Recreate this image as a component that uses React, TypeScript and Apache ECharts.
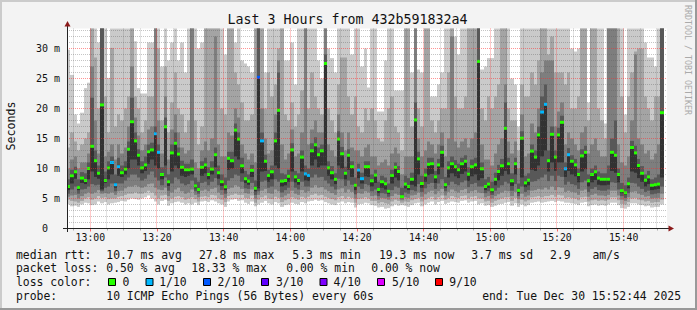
import { useEffect, useRef } from "react";
import * as echarts from "echarts";

const FONT = "'DejaVu Sans Mono', 'Liberation Mono', monospace";
const INK = "#111111";
const START_MINUTE = 12 * 60 + 53;
const STEPS = 180;
const Y_MAX = 100 / 3;

// category labels: one per minute boundary, 12:53 .. 15:53
const timeLabels: string[] = [];
for (let i = 0; i <= STEPS; i++) {
  const m = START_MINUTE + i;
  timeLabels.push(`${Math.floor(m / 60)}:${String(m % 60).padStart(2, "0")}`);
}
const minuteOf = (i: number) => (START_MINUTE + i) % 60;

const yTickValues = [0, 5, 10, 15, 20, 25, 30];

// median rtt per minute (ms)
const medianMs = [
  7.0, 8.8, 9.45, 6.85, 8.4, 8.0, 10.0, 13.7, 11.3, 9.2, 20.6, 8.0, 10.1, 11.0, 7.3, 10.3, 9.3, 9.9, 13.2, 17.8, 14.6, 12.2, 10.1, 10.6, 12.8, 13.1, 15.8, 12.7, 9.0, 16.95,
  7.8, 12.6, 14.2, 12.4, 10.2, 9.8, 9.8, 9.9, 7.1, 6.5, 10.2, 10.6, 9.0, 9.9, 12.3, 9.3, 7.8, 6.95, 11.7, 11.3, 16.4, 14.9, 10.45, 8.3, 7.9, 9.7, 6.7, 25.2, 14.6, 11.2,
  8.85, 9.45, 14.6, 19.7, 7.9, 8.0, 8.7, 13.1, 8.6, 8.0, 11.9, 9.1, 8.85, 12.95, 13.95, 12.3, 12.95, 27.5, 10.1, 9.3, 8.2, 14.9, 12.45, 9.2, 12.2, 10.3, 7.2, 9.75, 8.3, 10.3,
  10.3, 7.95, 8.9, 6.5, 7.8, 7.45, 6.2, 8.85, 10.2, 9.5, 5.3, 7.4, 7.0, 8.2, 18.1, 11.6, 7.5, 8.9, 10.7, 10.8, 8.6, 10.6, 12.7, 7.3, 10.1, 10.8, 10.3, 9.8, 10.8, 11.2,
  9.05, 10.3, 10.6, 27.85, 9.95, 7.0, 7.4, 6.45, 8.2, 9.5, 10.45, 16.7, 10.8, 7.95, 10.8, 6.35, 15.05, 7.6, 8.05, 12.9, 11.9, 15.6, 19.4, 20.7, 11.3, 15.7, 11.9, 15.6, 17.7, 9.95,
  12.3, 11.2, 10.6, 9.0, 12.1, 12.7, 7.95, 9.0, 9.45, 8.4, 8.2, 8.2, 8.2, 12.7, 12.2, 9.0, 6.3, 5.95, 7.45, 13.5, 12.6, 10.5, 9.2, 8.05, 8.6, 7.2, 7.3, 7.4, 19.3,
];

// lost pings (of 10) per minute
const lossCount = [
  0, 0, 0, 0, 0, 0, 0, 0, 0, 0, 0, 0, 0, 1, 1, 1, 0, 0, 0, 0, 0, 0, 0, 0, 0, 0, 1, 1, 0, 0,
  0, 0, 0, 0, 0, 0, 0, 0, 0, 0, 0, 0, 0, 0, 0, 0, 0, 0, 0, 0, 0, 0, 0, 0, 0, 0, 0, 2, 1, 0,
  0, 0, 0, 0, 0, 0, 0, 0, 0, 0, 0, 1, 1, 0, 0, 0, 0, 0, 0, 0, 0, 0, 0, 0, 0, 0, 0, 1, 1, 0,
  0, 0, 0, 0, 0, 0, 0, 0, 0, 0, 0, 0, 0, 0, 0, 0, 0, 0, 0, 0, 0, 0, 0, 0, 0, 0, 0, 0, 0, 0,
  0, 0, 0, 0, 0, 0, 0, 0, 0, 0, 0, 0, 0, 0, 0, 0, 0, 0, 0, 0, 0, 0, 1, 1, 0, 0, 0, 0, 0, 1,
  1, 0, 0, 0, 0, 0, 0, 0, 0, 0, 0, 0, 0, 0, 0, 0, 0, 0, 0, 0, 0, 0, 0, 0, 0, 0, 0, 0, 0,
];

// the 10 sorted ping times (ms) per minute
const pingRows = [
  [4.0, 4.8, 5.3, 5.8, 6.4, 7.2, 8.2, 10.0, 13.5, 29.8],
  [3.7, 4.6, 5.5, 6.5, 7.5, 9.0, 9.8, 11.5, 16.0, 25.6],
  [3.8, 4.5, 5.6, 7.0, 8.3, 9.6, 10.3, 12.0, 14.5, 19.0],
  [3.6, 4.3, 5.0, 5.8, 6.4, 7.0, 8.2, 10.0, 13.0, 17.5],
  [4.0, 4.6, 5.4, 6.5, 7.6, 8.6, 9.4, 11.0, 14.0, 19.3],
  [4.3, 5.0, 5.8, 6.6, 7.4, 8.2, 9.2, 11.0, 15.0, 23.4],
  [4.2, 5.2, 6.0, 7.0, 8.2, 10.2, 11.0, 12.5, 16.0, 24.3],
  [3.9, 4.8, 5.8, 7.4, 9.5, 13.8, 21.8, 27.0, 36, 40],
  [4.0, 5.0, 6.0, 7.2, 8.6, 11.5, 13.0, 18.0, 28.5, 40],
  [4.5, 5.4, 6.4, 7.3, 8.3, 9.4, 10.5, 12.5, 20.0, 31.0],
  [4.2, 5.1, 5.8, 6.2, 6.5, 20.8, 40, 40, 40, 40],
  [4.4, 5.2, 5.9, 6.8, 7.6, 8.3, 9.5, 12.0, 22.0, 34.5],
  [4.0, 4.9, 5.8, 7.0, 8.2, 10.4, 11.2, 12.8, 16.0, 25.1],
  [4.2, 5.0, 6.0, 7.5, 9.0, 11.2, 12.0, 14.0, 30.1, 34.5],
  [4.3, 5.0, 5.6, 6.2, 6.8, 7.6, 9.0, 11.5, 17.0, 40],
  [4.4, 5.3, 6.2, 7.5, 8.8, 10.6, 11.8, 14.0, 19.0, 40],
  [4.6, 5.4, 6.3, 7.5, 8.6, 9.6, 10.5, 12.5, 18.0, 36],
  [4.5, 5.6, 6.7, 8.0, 9.0, 10.3, 11.2, 13.5, 20.0, 40],
  [4.8, 5.8, 7.0, 8.5, 10.0, 13.4, 14.5, 17.0, 22.0, 40],
  [5.0, 5.8, 7.0, 9.0, 11.5, 18.0, 21.8, 27.0, 40, 40],
  [4.9, 6.0, 7.2, 9.0, 11.5, 14.8, 16.0, 18.5, 22.0, 31.2],
  [4.8, 5.8, 7.0, 8.5, 10.5, 12.4, 13.2, 15.5, 20.0, 23.4],
  [5.0, 5.8, 6.8, 8.0, 9.2, 10.3, 11.2, 13.0, 16.0, 22.5],
  [5.2, 6.0, 7.0, 8.3, 9.6, 10.8, 12.0, 14.0, 18.0, 22.5],
  [5.5, 6.3, 7.4, 9.0, 10.8, 13.0, 14.0, 16.5, 22.0, 31.0],
  [5.0, 6.0, 7.5, 9.5, 11.5, 13.3, 14.3, 17.0, 22.0, 31.0],
  [4.5, 5.5, 6.8, 8.5, 10.5, 16.0, 17.0, 40, 40, 40],
  [4.0, 5.0, 6.5, 8.0, 10.0, 12.9, 14.0, 18.0, 30.0, 40],
  [4.6, 5.5, 6.4, 7.2, 8.2, 9.2, 10.2, 12.5, 18.0, 27.0],
  [4.8, 5.6, 6.8, 8.5, 10.5, 17.1, 18.5, 22.0, 27.0, 40],
  [3.8, 4.6, 5.4, 6.3, 7.1, 8.0, 9.0, 11.5, 16.0, 28.0],
  [4.2, 5.0, 6.0, 7.5, 9.5, 12.8, 14.0, 16.5, 21.0, 31.0],
  [4.4, 5.3, 6.5, 8.5, 10.5, 14.4, 16.0, 19.0, 26.0, 40],
  [4.5, 5.4, 6.8, 8.2, 10.0, 12.6, 13.5, 16.0, 20.0, 28.0],
  [4.3, 5.2, 6.2, 7.5, 8.8, 10.4, 11.3, 13.5, 19.0, 31.0],
  [4.0, 4.8, 5.8, 7.2, 8.6, 10.0, 10.8, 12.5, 16.0, 26.0],
  [4.2, 5.0, 6.0, 7.4, 8.8, 10.0, 10.8, 13.0, 18.0, 40],
  [4.0, 5.2, 6.5, 8.0, 9.0, 10.1, 11.5, 40, 40, 40],
  [4.3, 4.9, 5.6, 6.2, 6.7, 7.3, 8.5, 11.0, 18.0, 40],
  [3.9, 4.5, 5.2, 5.8, 6.2, 6.7, 7.8, 10.0, 14.0, 30.0],
  [4.5, 5.3, 6.3, 7.6, 8.8, 10.4, 11.2, 13.0, 17.0, 31.0],
  [4.6, 5.4, 6.5, 7.8, 9.2, 10.8, 11.8, 14.5, 40, 40],
  [4.4, 5.2, 6.2, 7.2, 8.2, 9.2, 10.2, 13.0, 40, 40],
  [4.7, 5.6, 6.6, 7.8, 9.0, 10.1, 11.2, 15.0, 40, 40],
  [4.5, 5.5, 6.8, 8.4, 10.2, 12.5, 13.5, 32.0, 40, 40],
  [4.2, 5.0, 6.0, 7.2, 8.3, 9.5, 10.5, 14.0, 40, 40],
  [4.0, 4.8, 5.6, 6.4, 7.1, 8.0, 9.0, 12.0, 20.0, 40],
  [3.6, 4.4, 5.1, 5.8, 6.4, 7.1, 8.5, 12.0, 19.0, 29.0],
  [4.5, 5.4, 6.6, 8.0, 9.8, 11.9, 12.8, 16.0, 40, 40],
  [4.8, 5.6, 6.8, 8.4, 10.0, 11.5, 12.8, 15.5, 40, 40],
  [4.9, 5.8, 7.2, 9.0, 12.0, 16.6, 17.5, 20.0, 26.0, 31.0],
  [4.6, 5.6, 7.0, 8.8, 11.5, 15.1, 16.0, 18.5, 24.0, 34.5],
  [4.7, 5.6, 6.6, 7.8, 9.2, 10.6, 11.8, 14.0, 21.0, 28.0],
  [4.3, 5.1, 5.9, 6.7, 7.6, 8.5, 9.6, 12.5, 18.0, 27.5],
  [4.1, 5.0, 5.8, 6.6, 7.3, 8.1, 9.0, 11.5, 18.0, 27.0],
  [4.5, 5.5, 6.5, 7.6, 8.6, 9.9, 10.6, 12.5, 19.0, 26.0],
  [3.7, 4.3, 5.0, 5.6, 6.2, 6.9, 8.0, 11.0, 40, 40],
  [4.0, 4.8, 5.6, 6.2, 6.7, 25.4, 40, 40, 40, 40],
  [4.3, 5.2, 6.3, 7.8, 9.5, 14.8, 16.0, 20.0, 40, 40],
  [4.6, 5.5, 6.6, 8.0, 9.6, 11.4, 12.3, 15.0, 20.0, 26.0],
  [4.2, 5.0, 5.9, 6.8, 7.8, 8.9, 9.8, 12.5, 26.0, 40],
  [4.0, 4.9, 5.8, 7.0, 8.2, 9.5, 10.5, 13.0, 22.0, 40],
  [4.4, 5.3, 6.5, 8.2, 10.5, 14.8, 16.0, 19.0, 24.0, 34.5],
  [4.2, 5.1, 6.2, 7.8, 10.0, 19.8, 26.0, 28.0, 30.0, 40],
  [3.6, 4.4, 5.2, 6.0, 7.0, 8.0, 9.2, 14.0, 40, 40],
  [3.9, 4.7, 5.5, 6.4, 7.2, 8.1, 9.0, 11.5, 19.0, 28.0],
  [4.0, 4.9, 5.8, 6.8, 7.8, 8.8, 9.8, 12.5, 18.0, 28.0],
  [4.3, 5.2, 6.3, 7.8, 9.5, 13.2, 14.2, 16.5, 21.0, 31.0],
  [4.1, 5.0, 5.8, 6.8, 7.7, 8.7, 9.6, 12.0, 17.0, 24.0],
  [4.0, 4.8, 5.6, 6.5, 7.3, 8.1, 9.2, 12.5, 19.0, 34.5],
  [4.4, 5.3, 6.4, 7.8, 9.5, 12.0, 13.0, 16.0, 23.0, 34.5],
  [4.2, 5.1, 6.0, 7.0, 8.0, 9.2, 10.5, 40, 40, 40],
  [4.5, 5.3, 6.2, 7.0, 7.9, 8.9, 10.0, 14.0, 20.0, 34.5],
  [4.6, 5.6, 6.8, 8.5, 10.5, 13.1, 14.2, 16.5, 26.0, 34.5],
  [4.8, 5.8, 7.2, 9.0, 11.5, 14.1, 15.2, 18.0, 22.0, 40],
  [4.6, 5.5, 6.8, 8.5, 10.2, 12.4, 13.5, 16.0, 20.0, 28.0],
  [4.7, 5.6, 6.9, 8.6, 10.5, 13.1, 14.0, 16.0, 19.0, 25.0],
  [4.4, 5.3, 6.5, 8.0, 10.5, 27.7, 29.0, 34.5, 40, 40],
  [4.2, 5.1, 6.2, 7.5, 8.8, 10.2, 11.2, 14.0, 20.0, 30.0],
  [4.0, 4.9, 5.9, 7.0, 8.2, 9.4, 10.4, 13.0, 18.0, 28.4],
  [3.9, 4.7, 5.6, 6.5, 7.4, 8.3, 9.2, 12.0, 16.0, 26.0],
  [4.3, 5.2, 6.5, 8.3, 10.5, 15.0, 16.2, 19.0, 24.0, 34.5],
  [4.5, 5.4, 6.7, 8.2, 10.0, 12.6, 13.6, 16.0, 28.5, 40],
  [4.2, 5.0, 6.0, 7.1, 8.2, 9.3, 10.3, 13.0, 28.5, 40],
  [4.4, 5.3, 6.5, 8.0, 9.8, 12.3, 13.2, 16.0, 22.0, 34.5],
  [4.3, 5.1, 6.1, 7.3, 8.6, 10.4, 11.2, 13.5, 19.0, 29.0],
  [3.5, 4.3, 5.0, 5.7, 6.4, 7.3, 8.5, 13.0, 22.0, 34.5],
  [4.0, 4.9, 5.9, 7.0, 8.4, 9.9, 10.8, 13.0, 17.0, 34.5],
  [4.1, 5.0, 5.8, 6.6, 7.5, 8.4, 9.3, 12.0, 16.0, 27.0],
  [4.3, 5.2, 6.2, 7.4, 8.7, 10.4, 11.2, 13.5, 20.0, 30.0],
  [4.2, 5.0, 6.0, 7.2, 8.6, 10.4, 11.2, 14.0, 18.0, 23.5],
  [3.9, 4.6, 5.4, 6.2, 7.0, 8.0, 9.0, 12.0, 20.0, 34.5],
  [3.8, 4.6, 5.5, 6.5, 7.6, 9.0, 9.8, 12.0, 18.0, 34.5],
  [3.5, 4.2, 4.8, 5.4, 5.9, 6.6, 7.8, 10.5, 15.0, 19.5],
  [3.6, 4.4, 5.1, 5.9, 6.8, 7.9, 8.8, 11.0, 14.5, 19.5],
  [3.3, 4.2, 5.0, 5.8, 6.5, 7.5, 8.5, 11.5, 18.0, 28.0],
  [3.4, 4.1, 4.8, 5.3, 5.8, 6.3, 7.5, 10.5, 20.0, 34.5],
  [3.7, 4.5, 5.4, 6.4, 7.5, 8.9, 9.8, 12.5, 22.0, 34.5],
  [4.0, 4.8, 5.8, 7.0, 8.5, 10.3, 11.0, 13.5, 17.0, 23.0],
  [3.8, 4.6, 5.6, 6.8, 8.0, 9.6, 10.4, 12.5, 16.0, 23.0],
  [3.9, 4.3, 4.7, 5.0, 5.2, 5.4, 6.8, 9.0, 13.0, 23.0],
  [3.8, 4.5, 5.2, 6.0, 6.7, 7.5, 8.8, 12.0, 40, 40],
  [3.6, 4.4, 5.1, 5.8, 6.4, 7.1, 8.4, 12.0, 40, 40],
  [3.9, 4.7, 5.5, 6.4, 7.3, 8.3, 9.3, 12.0, 17.0, 26.0],
  [4.2, 4.9, 5.6, 6.2, 7.0, 18.3, 21.0, 40, 40, 40],
  [4.3, 5.1, 6.0, 7.4, 9.0, 11.7, 12.8, 15.0, 20.0, 26.5],
  [3.7, 4.5, 5.3, 6.1, 6.8, 7.6, 8.8, 12.0, 17.0, 26.0],
  [4.0, 4.8, 5.7, 6.7, 7.8, 9.0, 10.0, 13.0, 40, 40],
  [4.3, 5.1, 6.1, 7.4, 8.9, 10.8, 11.8, 14.5, 40, 40],
  [4.5, 5.3, 6.3, 7.6, 9.1, 10.9, 11.8, 14.0, 18.0, 22.0],
  [4.0, 4.8, 5.7, 6.6, 7.6, 8.7, 9.6, 12.5, 16.0, 22.0],
  [4.4, 5.2, 6.2, 7.5, 9.0, 10.7, 11.6, 14.0, 18.0, 24.0],
  [4.6, 5.5, 6.6, 8.2, 10.2, 12.8, 13.8, 16.0, 20.0, 26.0],
  [4.1, 4.8, 5.5, 6.2, 6.8, 7.4, 8.6, 12.0, 20.0, 34.5],
  [4.3, 5.1, 6.1, 7.2, 8.5, 10.2, 11.2, 15.0, 26.0, 40],
  [4.5, 5.4, 6.5, 7.8, 9.2, 10.9, 12.0, 32.0, 40, 40],
  [4.4, 5.2, 6.2, 7.4, 8.7, 10.4, 11.4, 14.5, 22.0, 32.0],
  [4.3, 5.1, 6.0, 7.2, 8.4, 9.9, 10.8, 13.5, 20.0, 29.0],
  [4.6, 5.4, 6.4, 7.7, 9.1, 10.9, 11.8, 14.5, 20.0, 34.5],
  [4.7, 5.5, 6.6, 8.0, 9.5, 11.3, 12.2, 15.0, 22.0, 34.5],
  [4.3, 5.0, 5.9, 6.9, 7.9, 9.1, 10.2, 13.5, 40, 40],
  [4.5, 5.3, 6.2, 7.4, 8.7, 10.4, 11.5, 15.0, 40, 40],
  [4.6, 5.4, 6.4, 7.6, 9.0, 10.7, 11.8, 16.0, 40, 40],
  [4.0, 5.0, 6.0, 7.0, 8.0, 28.0, 40, 40, 40, 40],
  [4.2, 5.0, 5.9, 7.0, 8.4, 10.0, 11.0, 14.0, 20.0, 26.5],
  [3.8, 4.5, 5.2, 5.9, 6.4, 7.1, 8.2, 11.5, 18.0, 27.0],
  [3.9, 4.6, 5.4, 6.2, 6.8, 7.5, 8.6, 11.5, 22.0, 28.4],
  [3.6, 4.3, 5.0, 5.6, 6.0, 6.5, 7.8, 10.5, 20.0, 28.4],
  [3.8, 4.6, 5.4, 6.3, 7.2, 8.3, 9.3, 12.5, 22.0, 34.5],
  [4.0, 4.8, 5.7, 6.8, 8.0, 9.6, 10.6, 14.0, 24.0, 34.5],
  [4.1, 5.0, 6.0, 7.2, 8.8, 10.5, 11.6, 15.0, 40, 40],
  [4.3, 5.2, 6.3, 7.8, 9.6, 16.8, 21.0, 24.0, 40, 40],
  [4.4, 5.2, 6.2, 7.5, 9.0, 10.9, 11.8, 14.5, 20.0, 34.5],
  [3.8, 4.6, 5.4, 6.3, 7.1, 8.0, 9.2, 12.5, 18.0, 25.0],
  [4.2, 5.1, 6.1, 7.4, 9.0, 10.9, 11.8, 14.5, 18.0, 24.0],
  [3.6, 4.2, 4.9, 5.4, 5.9, 6.4, 7.5, 10.0, 13.0, 17.0],
  [4.0, 4.8, 5.8, 7.0, 8.5, 15.2, 16.2, 19.0, 24.0, 34.5],
  [3.7, 4.5, 5.3, 6.1, 6.9, 7.7, 8.8, 12.0, 22.0, 40],
  [3.9, 4.7, 5.5, 6.4, 7.2, 8.1, 9.2, 12.5, 22.0, 40],
  [4.3, 5.2, 6.3, 7.8, 9.8, 13.0, 14.0, 17.5, 26.0, 40],
  [4.4, 5.3, 6.4, 7.9, 9.6, 12.0, 13.0, 16.0, 24.0, 34.5],
  [4.5, 5.4, 6.6, 8.2, 10.5, 15.7, 17.0, 20.0, 28.0, 40],
  [4.3, 5.2, 6.5, 8.5, 12.0, 19.5, 22.0, 26.0, 40, 40],
  [4.4, 5.4, 6.8, 9.0, 13.0, 20.8, 24.0, 28.0, 40, 40],
  [4.5, 5.4, 6.5, 7.9, 9.5, 11.4, 13.0, 28.0, 29.0, 40],
  [4.6, 5.6, 7.0, 8.8, 11.0, 15.8, 17.0, 28.0, 32.0, 40],
  [4.4, 5.3, 6.4, 7.9, 9.6, 12.0, 13.0, 17.0, 26.0, 34.5],
  [4.6, 5.6, 6.9, 8.8, 11.0, 15.7, 16.8, 19.5, 26.0, 34.5],
  [4.5, 5.5, 6.8, 8.6, 11.0, 17.8, 18.8, 21.0, 26.0, 40],
  [4.3, 5.1, 6.1, 7.3, 8.6, 10.0, 11.0, 14.0, 24.0, 40],
  [4.3, 5.2, 6.3, 7.8, 9.6, 12.4, 13.4, 16.0, 26.0, 40],
  [4.2, 5.1, 6.1, 7.4, 9.0, 11.3, 12.2, 15.0, 20.0, 30.0],
  [4.1, 5.0, 6.0, 7.2, 8.7, 10.7, 11.6, 14.0, 20.0, 29.5],
  [3.9, 4.7, 5.6, 6.6, 7.7, 9.1, 10.0, 13.0, 22.0, 30.0],
  [4.3, 5.2, 6.3, 7.7, 9.5, 12.2, 13.2, 16.0, 40, 40],
  [4.4, 5.3, 6.5, 8.0, 9.9, 12.8, 13.8, 17.0, 40, 40],
  [3.7, 4.5, 5.3, 6.1, 7.0, 8.0, 9.0, 12.5, 18.0, 21.0],
  [3.9, 4.7, 5.6, 6.6, 7.7, 9.1, 10.0, 14.0, 40, 40],
  [4.0, 4.8, 5.8, 6.9, 8.1, 9.5, 10.5, 15.0, 40, 40],
  [3.8, 4.6, 5.5, 6.4, 7.3, 8.5, 9.5, 13.0, 20.0, 34.5],
  [3.9, 4.7, 5.5, 6.3, 7.2, 8.3, 9.2, 12.0, 18.0, 34.5],
  [3.8, 4.6, 5.4, 6.3, 7.2, 8.3, 9.2, 12.0, 15.0, 17.5],
  [4.0, 4.8, 5.6, 6.5, 7.3, 8.3, 10.5, 40, 40, 40],
  [4.3, 5.2, 6.3, 7.7, 9.6, 12.8, 15.0, 40, 40, 40],
  [4.3, 5.2, 6.3, 7.6, 9.3, 12.3, 18.0, 40, 40, 40],
  [3.9, 4.7, 5.5, 6.5, 7.7, 9.1, 10.0, 14.0, 40, 40],
  [3.4, 4.1, 4.8, 5.4, 5.9, 6.4, 7.6, 11.0, 22.0, 40],
  [3.3, 4.0, 4.6, 5.1, 5.6, 6.0, 7.2, 10.5, 16.0, 19.0],
  [3.6, 4.4, 5.2, 5.9, 6.7, 7.5, 8.5, 12.0, 22.0, 40],
  [4.2, 5.0, 6.1, 7.6, 9.5, 13.6, 14.6, 18.0, 26.0, 40],
  [4.2, 5.1, 6.2, 7.5, 9.3, 12.7, 13.8, 29.0, 29.5, 40],
  [4.0, 4.8, 5.8, 7.0, 8.4, 10.6, 11.6, 15.0, 30.0, 34.5],
  [3.9, 4.7, 5.6, 6.6, 7.8, 9.3, 10.4, 14.0, 30.0, 34.5],
  [3.7, 4.5, 5.3, 6.1, 7.0, 8.1, 9.0, 12.5, 22.0, 31.0],
  [3.8, 4.6, 5.4, 6.3, 7.4, 8.7, 9.6, 13.0, 20.0, 28.5],
  [3.5, 4.3, 5.0, 5.7, 6.4, 7.3, 8.2, 11.5, 18.0, 28.5],
  [3.6, 4.4, 5.1, 5.8, 6.5, 7.4, 8.5, 12.5, 22.0, 27.0],
  [3.6, 4.4, 5.1, 5.9, 6.6, 7.5, 9.0, 14.0, 22.0, 34.5],
  [4.0, 4.8, 5.8, 7.0, 8.5, 19.4, 40, 40, 40, 40],
];

const SMOKE_SHADES = ["#cacaca", "#a4a4a4", "#7e7e7e", "#585858", "#323232"];
const LOSS_COLORS = ["#26ff00", "#00b8ff", "#0059ff", "#5e00ff", "#7e00ff", "#dd00ff", "#dd00ff", "#dd00ff", "#dd00ff", "#ff0000", "#ff0000"];

const lossLegendLabels = ["0", "1/10", "2/10", "3/10", "4/10", "5/10", "9/10"];
const lossLegendColors = ["#26ff00", "#00b8ff", "#0059ff", "#5e00ff", "#7e00ff", "#dd00ff", "#ff0000"];

const statLines = [
  { y: 254.5, items: [[16, "median rtt:"], [106.3, "10.7 ms avg"], [199, "27.8 ms max"], [292.3, "5.3 ms min"], [379, "19.3 ms now"], [471.3, "3.7 ms sd"], [550, "2.9"], [592.5, "am/s"]] },
  { y: 268.3, items: [[16, "packet loss:"], [106.3, "0.50 % avg"], [191.3, "18.33 % max"], [286.3, "0.00 % min"], [371.3, "0.00 % now"]] },
  { y: 281.8, items: [[16, "loss color:"]] },
  { y: 295.8, items: [[16, "probe:"], [106.3, "10 ICMP Echo Pings (56 Bytes) every 60s"]] },
];
const legendBoxX = [108, 145.5, 203, 261, 319.5, 377, 435];
const legendLabelX = [122.5, 159.2, 217.5, 276, 333.5, 392, 449.3];

const MAJOR = "rgba(255,40,40,0.5)";
const MINOR = "rgba(90,90,90,0.35)";

// vertical grid rows: [category index, 0, isMajor]
const vGridRows: number[][] = [];
timeLabels.forEach((_, i) => {
  const m = minuteOf(i);
  if (m % 5 === 0) vGridRows.push([i, 0, m % 20 === 0 ? 1 : 0]);
});
// horizontal grid rows: [0, value, isMajor]
const hGridRows: number[][] = [];
for (let v = 1; v <= 33; v++) hGridRows.push([0, v, v % 5 === 0 ? 1 : 0]);

function renderSmoke(_params: any, api: any) {
  const i = api.value(0);
  const xL = Math.round(api.coord([i, 0])[0]);
  const xR = Math.round(api.coord([i + 1, 0])[0]);
  const children: any[] = [];
  for (let b = 0; b < 5; b++) {
    const lo = Math.min(api.value(1 + b), Y_MAX);
    const hi = Math.min(api.value(10 - b), Y_MAX);
    const yLo = api.coord([i, lo])[1];
    const yHi = api.coord([i, hi])[1];
    if (yLo - yHi <= 0) continue;
    children.push({
      type: "rect",
      shape: { x: xL, y: yHi, width: xR - xL, height: yLo - yHi },
      style: { fill: SMOKE_SHADES[b] },
    });
  }
  return { type: "group", children };
}

function renderMedian(_params: any, api: any) {
  const i = api.value(0);
  const xL = Math.round(api.coord([i, 0])[0]);
  const xR = Math.round(api.coord([i + 1, 0])[0]);
  const y = api.coord([i, api.value(1)])[1];
  return {
    type: "rect",
    shape: { x: xL, y: y - 1.5, width: xR - xL, height: 3 },
    style: { fill: LOSS_COLORS[api.value(2)] },
  };
}

function renderVGrid(params: any, api: any) {
  const cs = params.coordSys;
  const x = Math.floor(api.coord([api.value(0), 0])[0] - 0.3) + 0.5;
  return {
    type: "line",
    shape: { x1: x, y1: cs.y, x2: x, y2: cs.y + cs.height },
    style: { stroke: api.value(2) ? MAJOR : MINOR, lineWidth: 1, lineDash: [1, 1] },
  };
}

function renderHGrid(params: any, api: any) {
  const cs = params.coordSys;
  const y = Math.round(api.coord([0, api.value(1)])[1] - 0.5) + 0.5;
  return {
    type: "line",
    shape: { x1: cs.x, y1: y, x2: cs.x + cs.width, y2: y },
    style: { stroke: api.value(2) ? MAJOR : MINOR, lineWidth: 1, lineDash: [1, 1] },
  };
}

function buildOption() {
  const textEl = (x: number, y: number, text: string, extra: any = {}) => ({
    type: "text",
    x,
    y,
    z: 50,
    silent: true,
    style: {
      text,
      fill: INK,
      fontFamily: FONT,
      fontSize: 11.4,
      align: "left",
      verticalAlign: "middle",
      ...extra,
    },
  });

  const graphics: any[] = [
    { type: "rect", z: 40, silent: true, shape: { x: 0, y: 0, width: 697, height: 2 }, style: { fill: "#cbcbcb" } },
    { type: "rect", z: 40, silent: true, shape: { x: 0, y: 0, width: 2, height: 310 }, style: { fill: "#cbcbcb" } },
    { type: "rect", z: 41, silent: true, shape: { x: 0, y: 308, width: 697, height: 2 }, style: { fill: "#999999" } },
    { type: "rect", z: 41, silent: true, shape: { x: 695, y: 0, width: 2, height: 310 }, style: { fill: "#999999" } },
    { type: "line", z: 45, silent: true, shape: { x1: 67.5, y1: 232, x2: 67.5, y2: 25 }, style: { stroke: "#222", lineWidth: 1 } },
    { type: "line", z: 45, silent: true, shape: { x1: 63, y1: 228.5, x2: 670, y2: 228.5 }, style: { stroke: "#222", lineWidth: 1 } },
    { type: "polygon", z: 46, silent: true, shape: { points: [[67.5, 21], [64.5, 26.5], [70.5, 26.5]] }, style: { fill: "#8b1a1a" } },
    { type: "polygon", z: 46, silent: true, shape: { points: [[674, 228.5], [668.5, 225.5], [668.5, 231.5]] }, style: { fill: "#8b1a1a" } },
    textEl(347.5, 19.5, "Last 3 Hours from 432b591832a4", { fontSize: 13.3, align: "center" }),
    {
      type: "text", x: 11, y: 126, z: 50, rotation: Math.PI / 2, silent: true,
      style: { text: "Seconds", fill: INK, fontFamily: FONT, fontSize: 11.6, align: "center", verticalAlign: "middle" },
    },
    {
      type: "text", x: 688, y: 60, z: 50, rotation: -Math.PI / 2, silent: true,
      style: { text: "RRDTOOL / TOBI OETIKER", fill: "#aaaaaa", fontFamily: FONT, fontSize: 8.3, align: "center", verticalAlign: "middle" },
    },
  ];

  statLines.forEach((line) => {
    line.items.forEach(([x, t]) => graphics.push(textEl(x as number, line.y, t as string)));
  });
  lossLegendLabels.forEach((label, k) => {
    graphics.push({
      type: "rect", z: 50, silent: true,
      shape: { x: legendBoxX[k] + 0.5, y: 278.5, width: 7, height: 7 },
      style: { fill: lossLegendColors[k], stroke: "#000", lineWidth: 1 },
    });
    graphics.push(textEl(legendLabelX[k], 281.8, label));
  });
  graphics.push(textEl(681, 295.8, "end: Tue Dec 30 15:52:44 2025", { align: "right" }));

  return {
    animation: false,
    backgroundColor: "#f3f3f3",
    textStyle: { fontFamily: FONT },
    grid: { left: 67, right: 30, top: 28.5, bottom: 81.5, show: true, backgroundColor: "#ffffff", borderWidth: 0 },
    xAxis: [
      {
        type: "category",
        data: timeLabels,
        boundaryGap: false,
        z: 10,
        axisLine: { show: true, lineStyle: { color: "#222", width: 1 } },
        axisTick: { show: true, length: 3, interval: (i: number) => minuteOf(i) % 20 === 0, lineStyle: { color: "rgba(255,40,40,0.7)" } },
        axisLabel: {
          show: true,
          interval: (i: number) => minuteOf(i) % 20 === 0,
          color: INK,
          fontFamily: FONT,
          fontSize: 9.8,
          margin: 4,
        },
        splitLine: { show: false },
      },
      {
        type: "category",
        data: timeLabels,
        boundaryGap: false,
        position: "bottom",
        z: 10,
        axisLine: { show: false },
        axisTick: { show: true, length: 2, interval: (i: number) => minuteOf(i) % 5 === 0 && minuteOf(i) % 20 !== 0, lineStyle: { color: "#aaaaaa" } },
        axisLabel: { show: false },
        splitLine: { show: false },
      },
    ],
    yAxis: {
      type: "value",
      min: 0,
      max: Y_MAX,
      interval: 5,
      z: 10,
      axisLine: { show: true, lineStyle: { color: "#222", width: 1 } },
      axisTick: { show: false },
      axisLabel: {
        color: INK,
        fontFamily: FONT,
        fontSize: 10,
        margin: 7,
        formatter: (v: number) => {
          const hit = yTickValues.find((t) => Math.abs(t - v) < 1e-6);
          if (hit === undefined) return "";
          return hit === 0 ? "0\u00a0\u00a0" : `${hit} m`;
        },
      },
      splitLine: { show: false },
    },
    series: [
      { type: "custom", name: "smoke", z: 2, silent: true, renderItem: renderSmoke, encode: { x: 0, y: 1 }, data: pingRows.map((r, i) => [i, ...r]) },
      { type: "custom", name: "median", z: 3, silent: true, renderItem: renderMedian, encode: { x: 0, y: 1 }, data: medianMs.map((m, i) => [i, m, lossCount[i]]) },
      { type: "custom", name: "vgrid", z: 4, silent: true, renderItem: renderVGrid, encode: { x: 0, y: 1 }, data: vGridRows },
      { type: "custom", name: "hgrid", z: 4, silent: true, renderItem: renderHGrid, encode: { x: 0, y: 1 }, data: hGridRows },
    ],
    graphic: { elements: graphics },
  };
}

export default function App() {
  const ref = useRef<HTMLDivElement>(null);
  useEffect(() => {
    if (!ref.current) return;
    const chart = echarts.init(ref.current, null, { renderer: "svg", width: 697, height: 310 });
    chart.setOption(buildOption() as any);
    return () => chart.dispose();
  }, []);
  return <div ref={ref} style={{ position: "fixed", left: 0, top: 0, width: 697, height: 310 }} />;
}
